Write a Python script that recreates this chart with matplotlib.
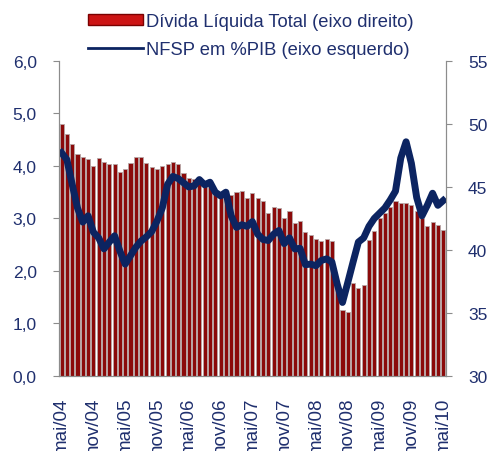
import matplotlib.pyplot as plt
import numpy as np
from matplotlib.patches import Patch
from matplotlib.lines import Line2D

plt.rcParams['font.family'] = ['Liberation Sans', 'DejaVu Sans']

# monthly data, mai/04 .. mai/10
meses = ['jan', 'fev', 'mar', 'abr', 'mai', 'jun', 'jul', 'ago', 'set', 'out', 'nov', 'dez']
labels = [f"{meses[(4 + i) % 12]}/{(4 + (4 + i) // 12):02d}" for i in range(73)]

# NFSP em %PIB (left axis)
nfsp = [4.25, 4.12, 3.65, 3.20, 2.93, 3.05, 2.74, 2.63, 2.42, 2.55, 2.67, 2.38,
        2.13, 2.29, 2.45, 2.57, 2.65, 2.75, 2.95, 3.20, 3.65, 3.80, 3.76, 3.68,
        3.60, 3.62, 3.74, 3.64, 3.69, 3.50, 3.43, 3.50, 3.05, 2.83, 2.88, 2.85,
        2.94, 2.70, 2.60, 2.58, 2.70, 2.77, 2.52, 2.63, 2.42, 2.43, 2.12, 2.13,
        2.10, 2.20, 2.23, 2.17, 1.75, 1.40, 1.78, 2.17, 2.55, 2.63, 2.85, 3.00,
        3.10, 3.20, 3.35, 3.52, 4.15, 4.46, 4.05, 3.40, 3.05, 3.25, 3.48, 3.25,
        3.34]

# Dívida Líquida Total (right axis)
divida = [50.0, 49.2, 48.4, 47.6, 47.4, 47.2, 46.7, 47.3, 47.0, 46.8, 46.8, 46.2,
          46.4, 46.9, 47.4, 47.4, 46.9, 46.6, 46.4, 46.7, 46.8, 47.0, 46.8, 46.1,
          45.7, 45.6, 45.5, 45.4, 45.1, 44.7, 44.6, 44.6, 44.4, 44.6, 44.7, 44.1,
          44.5, 44.1, 43.9, 42.9, 43.4, 43.3, 42.5, 43.1, 42.1, 42.3, 41.4, 41.2,
          40.9, 40.7, 40.9, 40.7, 37.5, 35.2, 35.1, 37.4, 37.0, 37.2, 40.8, 41.5,
          42.5, 42.9, 43.4, 43.9, 43.7, 43.7, 43.6, 43.1, 42.5, 41.9, 42.2, 42.0,
          41.6]

navy = '#0c2461'
txt = '#1f2f6e'
red = '#8b0a0a'

fig = plt.figure(figsize=(4.91, 4.52), dpi=100)
ax = fig.add_axes([0.120, 0.166, 0.788, 0.697])
ax2 = ax.twinx()

x = np.arange(len(divida))
ax2.bar(x, np.array(divida) - 30, bottom=30, width=0.78, color=red,
        edgecolor='#b7a9a9', linewidth=0.6)
ax2.set_ylim(30, 55)
ax2.set_yticks(range(30, 56, 5))

ax.plot(x, nfsp, color=navy, linewidth=5, solid_joinstyle='round')
ax.set_ylim(0, 6)
ax.set_yticks(np.arange(0, 6.1, 1))
ax.set_yticklabels([f"{v:.1f}".replace('.', ',') for v in np.arange(0, 6.1, 1)])
ax.set_xlim(-0.5, len(x) - 0.5)
ax.set_xticks(x[::6])
ax.set_xticklabels(labels[::6], rotation=90, va='top')

ax.set_zorder(ax2.get_zorder() + 1)
ax.patch.set_visible(False)

for a in (ax, ax2):
    for s in a.spines.values():
        s.set_color('#8c8c8c')
    a.spines['top'].set_visible(False)
    a.tick_params(colors='#8c8c8c', labelcolor=txt, labelsize=12.5, length=4)
ax.tick_params(axis='x', length=0, pad=15, labelsize=13.5)
ax.tick_params(axis='y', pad=12)
ax2.tick_params(axis='y', pad=12)

handles = [Patch(facecolor='#cc1414', edgecolor='#7a0000', linewidth=1),
           Line2D([0], [0], color=navy, linewidth=2)]
fig.legend(handles, ['Dívida Líquida Total (eixo direito)', 'NFSP em %PIB (eixo esquerdo)'],
           loc='upper left', bbox_to_anchor=(0.145, 1.005), frameon=False,
           fontsize=13.2, labelcolor=txt, handlelength=3.0, handleheight=0.55,
           handletextpad=0.2, labelspacing=0.6)

fig.savefig('out.png', dpi=100)
